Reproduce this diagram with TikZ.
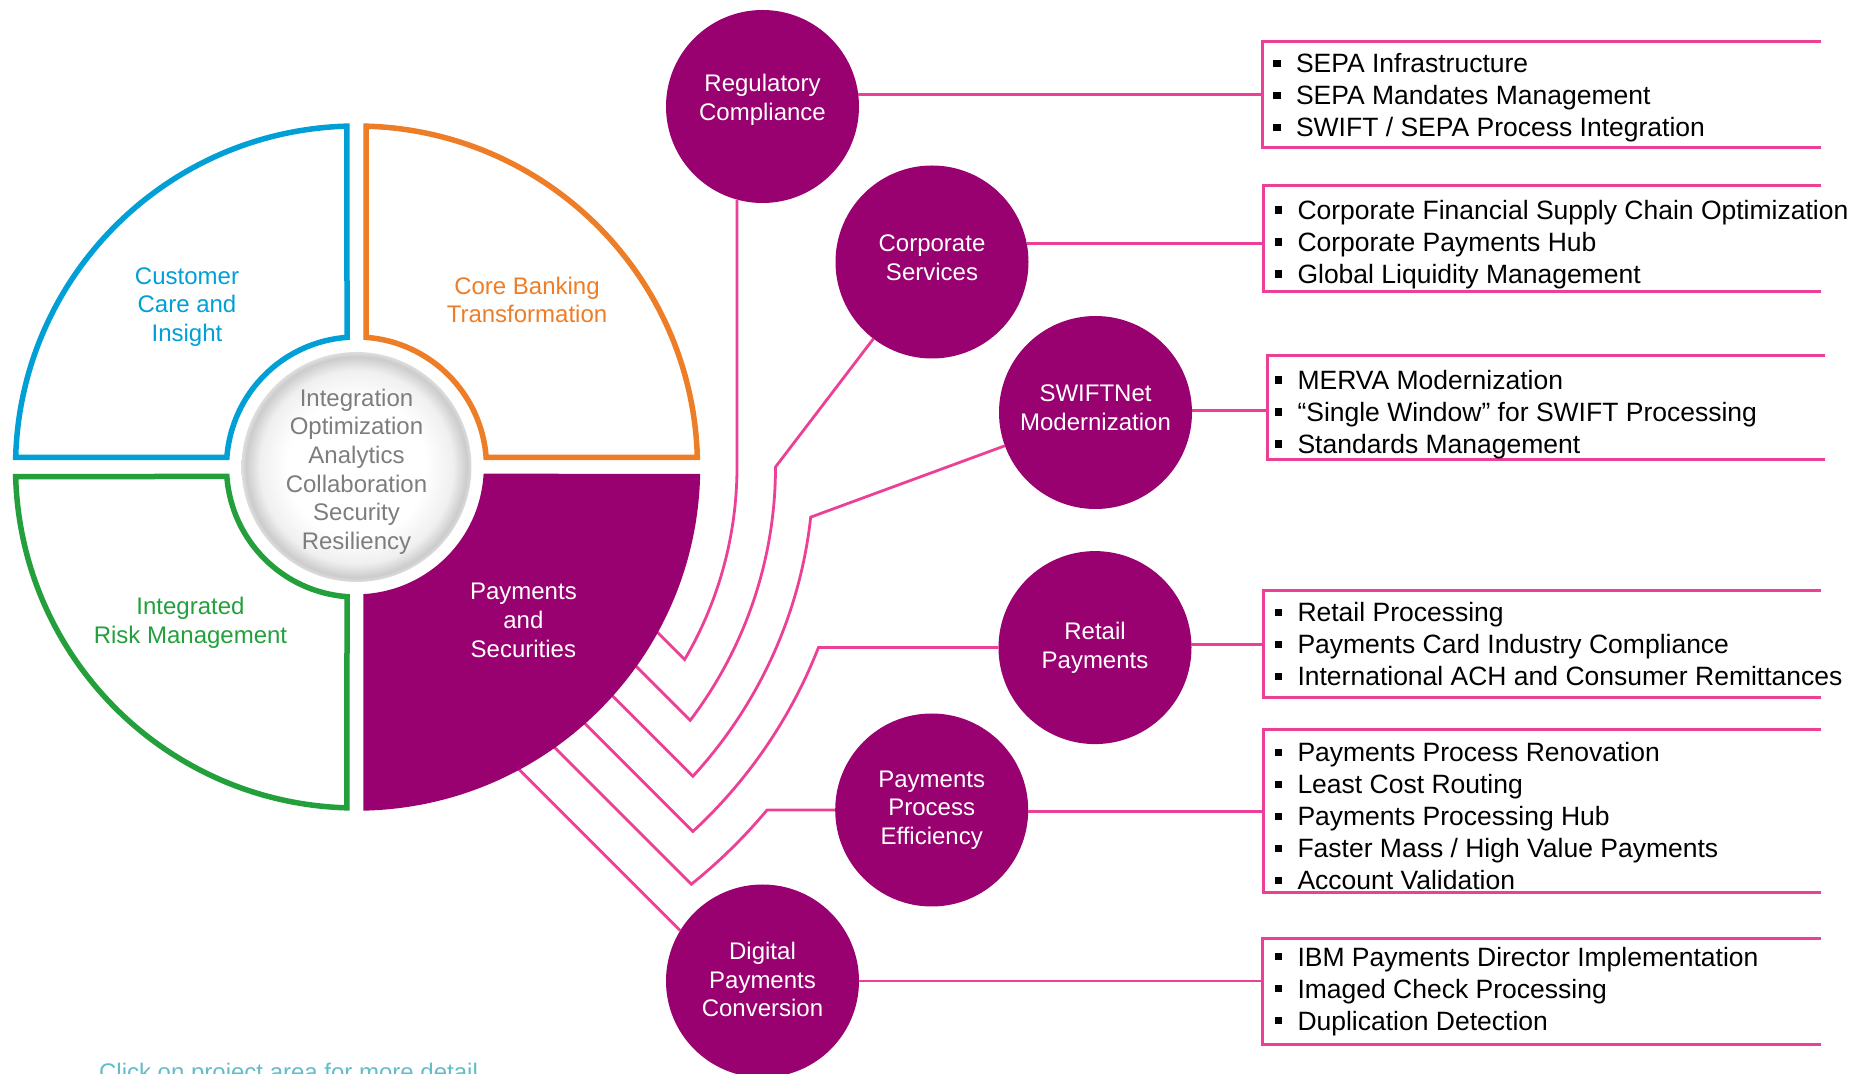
\documentclass[tikz,border=0pt]{standalone}
\usepackage{fontspec}
\setmainfont{Liberation Sans}
\usetikzlibrary{calc}
\definecolor{pmag}{RGB}{153,0,112}
\definecolor{lnpink}{RGB}{236,64,150}
\definecolor{qblue}{RGB}{0,160,214}
\definecolor{qorange}{RGB}{237,125,38}
\definecolor{qgreen}{RGB}{35,160,60}
\definecolor{cgray}{RGB}{125,125,128}
\definecolor{footc}{RGB}{100,188,200}
\pgfdeclareradialshading{sphereshade}{\pgfpoint{0bp}{0bp}}{color(0bp)=(white); color(15bp)=(white); color(21bp)=(black!6); color(24bp)=(black!20); color(25bp)=(black!13); color(50bp)=(black!13)}
\newcommand\bul{\raisebox{2.9pt}{\rule{3.6pt}{3.6pt}}\hspace{7.75pt}}
\newcommand\dep[1]{\rule[-#1]{0pt}{#1}}
\begin{document}
\begin{tikzpicture}[x=0.5pt,y=0.5pt,
  circ/.style={circle, fill=pmag, inner sep=0pt, outer sep=0pt, minimum size=96.5pt, text=white, align=center, font=\fontsize{12}{14.3}\selectfont},
  conn/.style={draw=lnpink, line width=1.4pt},
  brk/.style={draw=lnpink, line width=1.5pt, line join=miter},
  boxarea/.style={rectangle, inner sep=0pt, outer sep=0pt, anchor=north west},
  listtext/.style={anchor=base west, inner sep=0pt, outer sep=0pt, font=\fontsize{13.25}{16}\selectfont},
  quad/.style={line width=2.75pt, line join=miter},
  qlabel/.style={align=center, inner sep=0pt, font=\fontsize{12}{14.3}\selectfont},
]
\useasboundingbox (0,0) rectangle (1860,-1074);
\coordinate (C) at (356.5,-467);

% project circles
\node[circ] (reg) at (762.5,-106.5) {Regulatory\\Compliance\dep{9.15pt}};
\node[circ] (corp) at (932,-262) {Corporate\\Services\dep{4.4pt}};
\node[circ] (swift) at (1095.5,-412.5) {SWIFTNet\\Modernization\dep{4.6pt}};
\node[circ] (retail) at (1095,-647.6) {Retail\\Payments};
\node[circ] (ppe) at (931.7,-810) {Payments\\Process\\Efficiency};
\node[circ] (dig) at (762.5,-981) {Digital\\Payments\\Conversion\dep{1.35pt}};

% connectors to the Payments quadrant
\coordinate (k1) at ($(C)+(0:380.5)$);
\coordinate (k2) at ($(C)+(0:419)$);
\coordinate (k3) at ($(C)+(-6.3:457)$);
\coordinate (k4) at ($(C)+(-21.35:496)$);
\coordinate (k5) at ($(C)+(-39.88:535)$);
\draw[conn] (k1 |- reg.255) -- (k1) arc[start angle=0, end angle=-30.4, radius=380.5] -- ++(-50,50);
\draw[conn] (corp) -- (k2) arc[start angle=0, end angle=-37.2, radius=419] -- ++(-78,78);
\draw[conn] (swift) -- (k3) arc[start angle=-6.3, end angle=-42.6, radius=457] -- ++(-105,105);
\draw[conn] (retail) -- (k4) arc[start angle=-21.35, end angle=-47.3, radius=496] -- ++(-133,133);
\draw[conn] (ppe) -- (k5) arc[start angle=-39.88, end angle=-51.25, radius=535] -- ++(-162,162);
\draw[conn] ($(dig)+(148.5:96.5)$) -- ++(-185,185);

% quadrants
\draw[quad, qblue] ($(C)+(91.6:341)$) -- ($(C)+(94.19:130)$) arc[start angle=94.19, end angle=175.81, radius=130] -- ($(C)+(178.4:341)$) arc[start angle=178.4, end angle=91.6, radius=341] -- cycle;
\draw[quad, qorange] ($(C)+(88.4:341)$) -- ($(C)+(85.81:130)$) arc[start angle=85.81, end angle=4.19, radius=130] -- ($(C)+(1.6:341)$) arc[start angle=1.6, end angle=88.4, radius=341] -- cycle;
\draw[quad, qgreen] ($(C)+(181.6:341)$) -- ($(C)+(184.19:130)$) arc[start angle=184.19, end angle=265.81, radius=130] -- ($(C)+(268.4:341)$) arc[start angle=268.4, end angle=181.6, radius=341] -- cycle;
\draw[quad, draw=pmag, fill=pmag] ($(C)+(271.6:341)$) -- ($(C)+(274.19:130)$) arc[start angle=274.19, end angle=355.81, radius=130] -- ($(C)+(358.4:341)$) arc[start angle=358.4, end angle=271.6, radius=341] -- cycle;

% centre sphere
\shade[shading=sphereshade] (C) circle[radius=115];
\node[qlabel, text=cgray] (themes) at (356.5,-471.5) {Integration\\Optimization\\Analytics\\Collaboration\\Security\\Resiliency};

% quadrant labels
\node[qlabel, text=qblue] (cust) at (187,-306.8) {Customer\\Care and\\Insight};
\node[qlabel, text=qorange] (cbt) at (527,-300) {Core Banking\\Transformation};
\node[qlabel, text=qgreen] (irm) at (190.5,-623) {Integrated\\Risk Management};
\node[qlabel, text=white] (pas) at (523.4,-620.4) {Payments\\and\\Securities};

% list boxes
\node[boxarea, minimum width=279.25pt, minimum height=53pt] (b1) at (1262.5,-42) {};
\node[boxarea, minimum width=278.65pt, minimum height=53pt] (b2) at (1263.7,-185.5) {};
\node[boxarea, minimum width=279pt, minimum height=52pt] (b3) at (1267,-355.5) {};
\node[boxarea, minimum width=278.65pt, minimum height=53.3pt] (b4) at (1263.7,-590.7) {};
\node[boxarea, minimum width=278.65pt, minimum height=81.35pt] (b5) at (1263.7,-730) {};
\node[boxarea, minimum width=279.25pt, minimum height=52.65pt] (b6) at (1262.5,-939) {};
\foreach \b in {b1,b2,b3,b4,b5,b6}{
  \draw[brk] (\b.north east) -- (\b.north west) -- (\b.south west) -- (\b.south east);
}

\node[listtext] (t1) at (1273.3,-72.8) {\begin{tabular}[t]{@{}l@{}}\bul SEPA Infrastructure\\ \bul SEPA Mandates Management\\ \bul SWIFT / SEPA Process Integration\end{tabular}};
\node[listtext] (t2) at (1274.8,-219.5) {\begin{tabular}[t]{@{}l@{}}\bul Corporate Financial Supply Chain Optimization\\ \bul Corporate Payments Hub\\ \bul Global Liquidity Management\end{tabular}};
\node[listtext] (t3) at (1274.8,-389.5) {\begin{tabular}[t]{@{}l@{}}\bul MERVA Modernization\\ \bul “Single Window” for SWIFT Processing\\ \bul Standards Management\end{tabular}};
\node[listtext] (t4) at (1274.8,-621.8) {\begin{tabular}[t]{@{}l@{}}\bul Retail Processing\\ \bul Payments Card Industry Compliance\\ \bul International ACH and Consumer Remittances\end{tabular}};
\node[listtext] (t5) at (1274.8,-761.8) {\begin{tabular}[t]{@{}l@{}}\bul Payments Process Renovation\\ \bul Least Cost Routing\\ \bul Payments Processing Hub\\ \bul Faster Mass / High Value Payments\\ \bul Account Validation\end{tabular}};
\node[listtext] (t6) at (1274.8,-966.2) {\begin{tabular}[t]{@{}l@{}}\bul IBM Payments Director Implementation\\ \bul Imaged Check Processing\\ \bul Duplication Detection\end{tabular}};

% circle to box connectors
\draw[conn] (reg.7) -- (reg.7 -| b1.west);
\draw[conn] (corp.11) -- (corp.11 -| b2.west);
\draw[conn] (swift.1) -- (swift.1 -| b3.west);
\draw[conn] (retail.2) -- (retail.2 -| b4.west);
\draw[conn] (ppe.-1) -- (ppe.-1 -| b5.west);
\draw[conn] (dig.east) -- (dig.east -| b6.west);

% footer note (cut by the frame, as in the reference)
\node[anchor=base west, inner sep=0pt, text=footc, font=\fontsize{12}{14}\selectfont] (clicknote) at (98.7,-1080.5) {Click on project area for more detail};
\end{tikzpicture}
\end{document}
